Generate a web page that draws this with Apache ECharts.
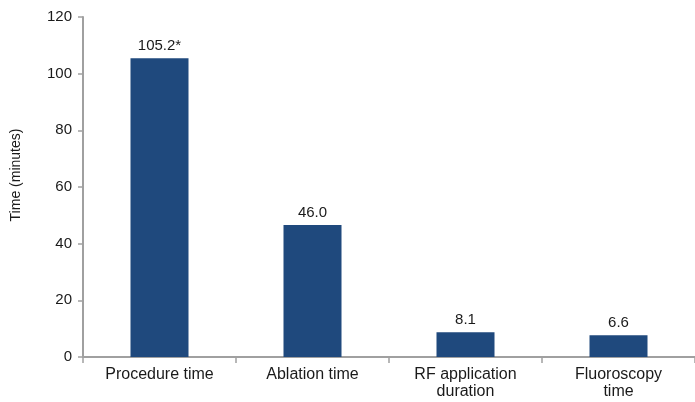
<!DOCTYPE html>
<html>
<head>
<meta charset="utf-8">
<script src="https://cdn.jsdelivr.net/npm/echarts@6/dist/echarts.min.js"></script>
<style>
html,body{margin:0;padding:0;background:#fff;}
#chart{width:695px;height:402px;}
</style>
</head>
<body>
<div id="chart"></div>
<script>
var categories = ['Procedure time', 'Ablation time', 'RF application\nduration', 'Fluoroscopy\ntime'];
var barValues = [105.4, 46.6, 8.7, 7.7];
var barLabels = ['105.2*', '46.0', '8.1', '6.6'];
var yTicks = [0, 20, 40, 60, 80, 100, 120];

var chart = echarts.init(document.getElementById('chart'), null, {renderer: 'canvas'});
var font = 'Liberation Sans, Arial, sans-serif';
chart.setOption({
  animation: false,
  backgroundColor: '#ffffff',
  grid: {left: 83, top: 17, width: 617, height: 340, containLabel: false},
  xAxis: {
    type: 'category',
    data: categories,
    axisLine: {show: true, lineStyle: {color: '#a0a0a0', width: 2}},
    axisTick: {show: true, alignWithLabel: false, length: 6, lineStyle: {color: '#a0a0a0', width: 1.5}},
    axisLabel: {color: '#1a1a1a', fontSize: 16, fontFamily: font, margin: 9, lineHeight: 17, interval: 0}
  },
  yAxis: {
    type: 'value',
    min: yTicks[0],
    max: yTicks[yTicks.length - 1],
    interval: 20,
    name: 'Time (minutes)',
    nameLocation: 'middle',
    nameRotate: 90,
    nameGap: 60,
    nameTextStyle: {color: '#1a1a1a', fontSize: 14, fontFamily: font, padding: [0, 0, 0, 24]},
    axisLine: {show: true, lineStyle: {color: '#a0a0a0', width: 2}},
    axisTick: {show: true, length: 5, lineStyle: {color: '#a0a0a0', width: 1.5}},
    splitLine: {show: false},
    axisLabel: {color: '#1a1a1a', fontSize: 15, fontFamily: font, margin: 11}
  },
  series: [{
    type: 'bar',
    data: barValues,
    barWidth: 58,
    itemStyle: {color: '#1F497D'},
    label: {
      show: true,
      position: 'top',
      distance: 5,
      color: '#1a1a1a',
      fontSize: 15,
      fontFamily: font,
      formatter: function (p) { return barLabels[p.dataIndex]; }
    }
  }]
});
</script>
</body>
</html>
